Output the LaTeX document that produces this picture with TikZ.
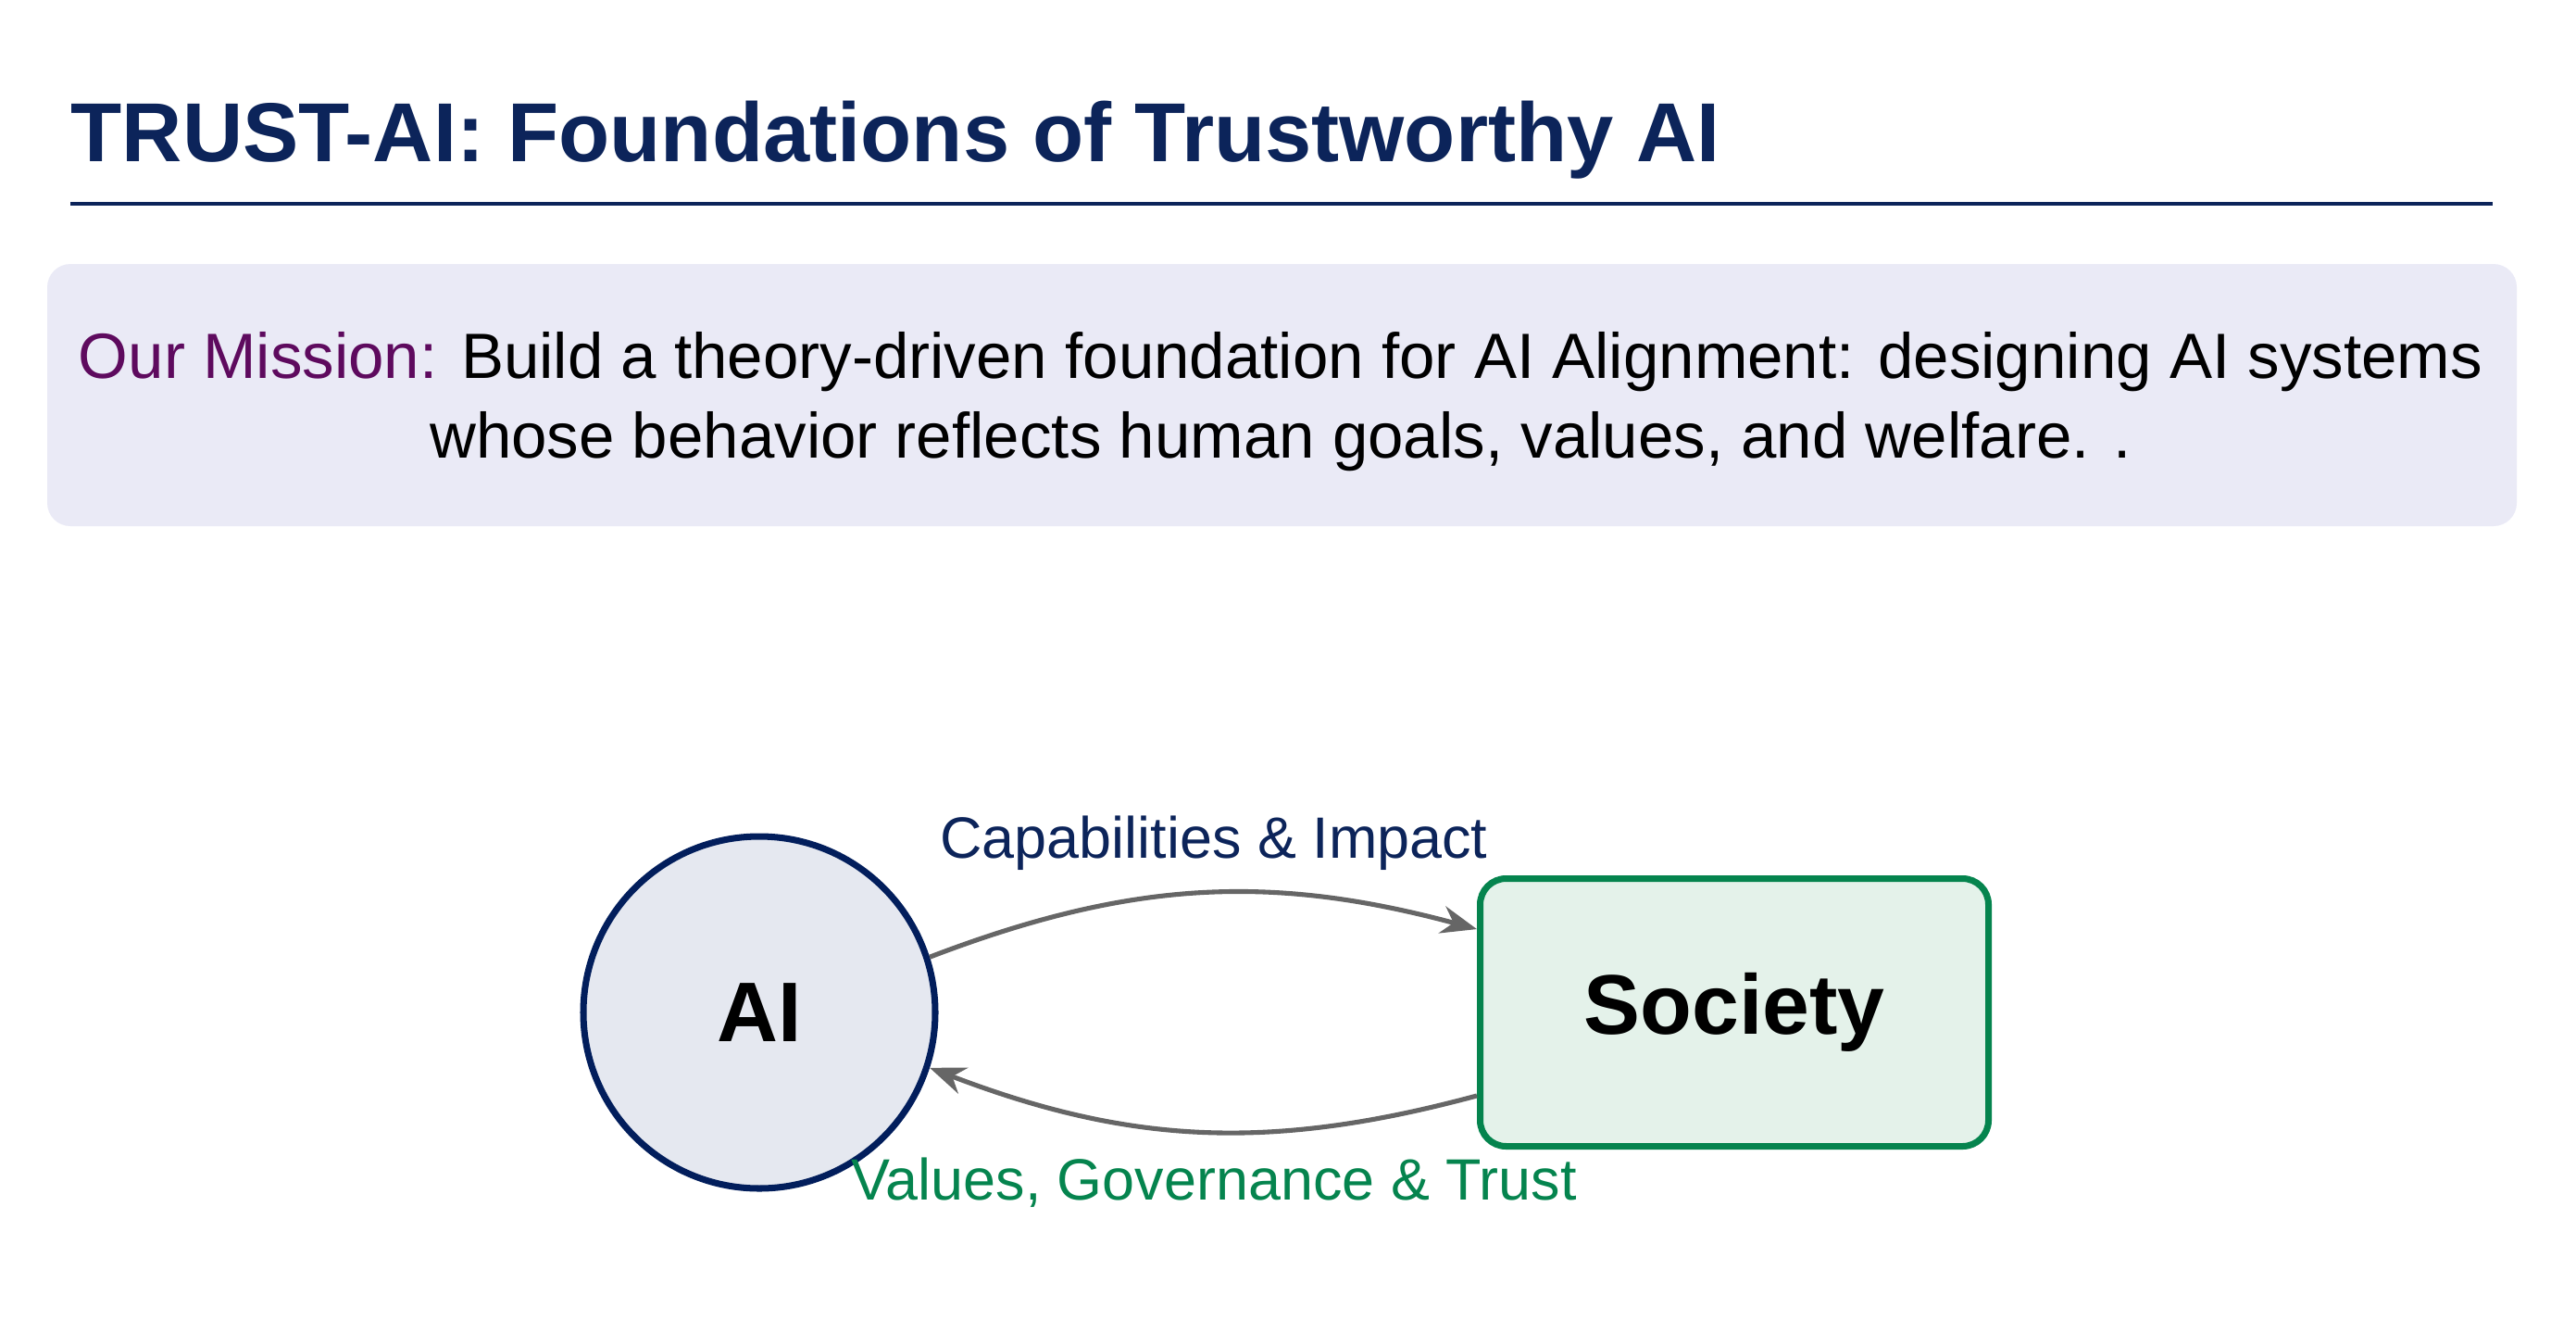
\documentclass[tikz,border=0pt]{standalone}
\usepackage{fontspec}
\setmainfont{Liberation Sans}
\usepackage{xcolor}
\definecolor{azulMarino}{RGB}{12,36,90}
\definecolor{azulCirculo}{RGB}{2,30,92}
\definecolor{verdeBosque}{RGB}{5,132,78}
\definecolor{moradoMision}{RGB}{94,10,94}
\definecolor{lavanda}{RGB}{234,234,246}
\definecolor{grisAzulado}{RGB}{229,232,240}
\definecolor{verdeClaro}{RGB}{228,242,234}
\definecolor{grisFlecha}{RGB}{102,102,102}
\usepackage{tikz}
\usetikzlibrary{arrows.meta,positioning}
\tikzstyle{titulo}=[anchor=base west, inner sep=0pt, text=azulMarino,
                    font=\fontsize{25.7}{31}\selectfont\bfseries]
\tikzstyle{mision}=[fill=lavanda, rounded corners=0.25cm,
                    minimum width=26.67cm, minimum height=2.83cm]
\tikzstyle{texto}=[align=center, inner sep=0pt,
                   font=\fontsize{19.65}{24.5}\selectfont]
\tikzstyle{circulo}=[circle, draw=azulCirculo, fill=grisAzulado,
                     minimum size=3.80cm, line width=2pt, inner sep=0pt,
                     font=\fontsize{26}{31}\selectfont\bfseries]
\tikzstyle{caja}=[rectangle, rounded corners=0.28cm, draw=verdeBosque,
                  fill=verdeClaro, minimum width=5.49cm, minimum height=2.89cm,
                  line width=2pt, inner sep=0pt,
                  font=\fontsize{26}{31}\selectfont\bfseries]
\tikzstyle{flecha}=[->, >={Stealth[length=11pt,width=8.5pt]},
                    grisFlecha, line width=1.45pt]
\tikzstyle{etiqueta}=[anchor=base, inner sep=0pt,
                      font=\fontsize{17.9}{22}\selectfont]

\begin{document}
\begin{tikzpicture}
    \useasboundingbox (0,0) rectangle (27.82,-14.37);

    % title and rule
    \node[titulo] (titulo) at (0.76,-1.74) {TRUST-AI: Foundations of Trustworthy AI};
    \draw[azulMarino, line width=0.9pt] (0.76,-2.20) -- (26.92,-2.20);

    % mission
    \node[mision] (caja mision) at (13.845,-4.265) {};
    \node[texto] (texto mision) at (13.83,-4.34)
        {\textcolor{moradoMision}{Our Mission:} Build a theory-driven foundation for AI Alignment: designing AI systems\\
         whose behavior reflects human goals, values, and welfare. .};

    % AI and society
    \node[circulo] (ai) at (8.20,-10.93) {AI};
    \node[caja] (sociedad) at (18.73,-10.93) {Society};

    \draw[flecha] (ai) to[bend left=18] (sociedad);
    \draw[flecha] (sociedad) to[bend left=18] (ai);

    \node[etiqueta, text=azulMarino] (capacidades) at (13.11,-9.26) {Capabilities \& Impact};
    \node[etiqueta, text=verdeBosque] (valores) at (13.11,-12.95) {Values, Governance \& Trust};
\end{tikzpicture}
\end{document}
